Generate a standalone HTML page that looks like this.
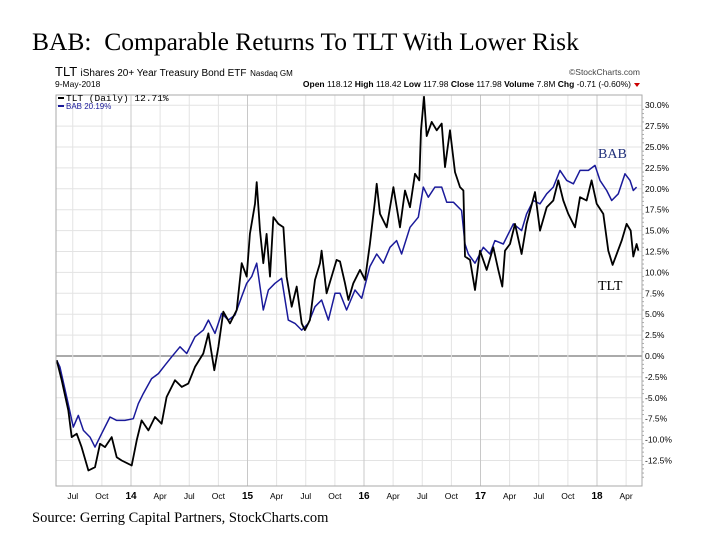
<!DOCTYPE html>
<html><head><meta charset="utf-8"><style>
body{margin:0;background:#fff;width:720px;height:540px;overflow:hidden}
svg{display:block}
</style></head><body>
<svg id="chart" width="720" height="540" xmlns="http://www.w3.org/2000/svg">
<text x="32" y="50" font-family="Liberation Serif, serif" font-size="25.5" fill="#000">BAB:&#160; Comparable Returns To TLT With Lower Risk</text>
<text x="32" y="522" font-family="Liberation Serif, serif" font-size="14.5" fill="#000">Source: Gerring Capital Partners, StockCharts.com</text>
<g font-family="Liberation Sans, sans-serif">
<text x="55" y="76" font-size="13" fill="#000">TLT <tspan font-size="10">iShares 20+ Year Treasury Bond ETF</tspan> <tspan font-size="8">Nasdaq GM</tspan></text>
<text x="640" y="75" font-size="8.5" fill="#444" text-anchor="end">©StockCharts.com</text>
<text x="55" y="87" font-size="8.5" fill="#000">9-May-2018</text>
<text x="631" y="87" font-size="8.5" fill="#000" text-anchor="end"><tspan font-weight="bold">Open</tspan> 118.12 <tspan font-weight="bold">High</tspan> 118.42 <tspan font-weight="bold">Low</tspan> 117.98 <tspan font-weight="bold">Close</tspan> 117.98 <tspan font-weight="bold">Volume</tspan> 7.8M <tspan font-weight="bold">Chg</tspan> -0.71 (-0.60%)</text>
<path d="M634,83 L640,83 L637,87 Z" fill="#c00"/>
</g>
<g id="grid"></g>
<g id="series"></g>
<g id="axes"></g>
<rect x="56" y="95" width="586" height="391" fill="none" stroke="#aaa" stroke-width="1"/>
<g font-family="Liberation Mono, monospace">
<line x1="58" y1="98" x2="64" y2="98" stroke="#000" stroke-width="2"/>
<text x="66" y="101" font-size="9.5" fill="#000">TLT (Daily) 12.71%</text>
<line x1="58" y1="106" x2="64" y2="106" stroke="#1a1a9a" stroke-width="2"/>
<text x="66" y="109" font-size="8" font-family="Liberation Sans, sans-serif" fill="#1a1a9a">BAB 20.19%</text>
</g>
<text x="598" y="158" font-family="Liberation Serif, serif" font-size="14" fill="#1f2f7a">BAB</text>
<text x="598" y="290" font-family="Liberation Serif, serif" font-size="14" fill="#000">TLT</text>
</svg>
<script>
const tltDates=[2013.362,2013.405,2013.462,2013.491,2013.534,2013.576,2013.634,2013.691,2013.734,2013.777,2013.834,2013.877,2013.920,2014.006,2014.049,2014.091,2014.149,2014.206,2014.263,2014.306,2014.378,2014.435,2014.492,2014.549,2014.621,2014.664,2014.715,2014.750,2014.792,2014.850,2014.907,2014.950,2014.993,2015.021,2015.064,2015.079,2015.107,2015.136,2015.164,2015.193,2015.222,2015.265,2015.308,2015.336,2015.379,2015.422,2015.465,2015.493,2015.536,2015.579,2015.622,2015.636,2015.679,2015.722,2015.765,2015.794,2015.837,2015.866,2015.908,2015.966,2016.009,2016.051,2016.094,2016.109,2016.137,2016.195,2016.252,2016.309,2016.352,2016.395,2016.438,2016.475,2016.489,2016.515,2016.538,2016.581,2016.624,2016.667,2016.695,2016.738,2016.781,2016.824,2016.853,2016.867,2016.910,2016.953,2016.996,2017.053,2017.110,2017.153,2017.187,2017.210,2017.253,2017.296,2017.353,2017.396,2017.468,2017.511,2017.568,2017.625,2017.668,2017.711,2017.754,2017.811,2017.854,2017.911,2017.954,2017.997,2018.054,2018.097,2018.134,2018.169,2018.212,2018.254,2018.289,2018.312,2018.340,2018.355];
const tltValues=[-0.5,-2.9,-6.5,-9.7,-9.3,-10.9,-13.7,-13.3,-10.5,-10.9,-9.7,-12.1,-12.5,-13.1,-10.1,-7.7,-8.9,-7.3,-8.1,-4.9,-2.9,-3.7,-3.3,-1.3,0.3,2.7,-1.7,1.1,5.3,3.9,5.5,11.1,9.5,14.6,18.2,20.8,15.0,11.1,14.6,9.5,16.6,15.8,15.4,9.5,5.9,8.3,3.9,3.1,4.3,9.1,11.1,12.6,7.5,9.5,11.5,11.3,8.7,6.7,8.7,10.3,9.1,13.4,18.6,20.6,17.0,15.4,20.2,15.4,19.8,17.8,21.8,21.0,27.0,31.0,26.3,28.0,27.0,27.8,22.6,27.0,22.0,20.2,19.8,11.9,11.5,7.9,12.6,10.3,13.0,10.3,8.3,12.6,13.4,15.8,12.2,15.8,19.6,15.0,17.8,18.6,21.0,18.6,17.0,15.4,19.0,18.6,21.0,18.2,17.0,12.6,10.9,12.2,13.8,15.8,15.0,11.9,13.4,12.6];
const babDates=[2013.362,2013.390,2013.448,2013.505,2013.548,2013.591,2013.648,2013.691,2013.748,2013.820,2013.877,2013.948,2014.020,2014.063,2014.106,2014.177,2014.235,2014.292,2014.349,2014.421,2014.478,2014.549,2014.621,2014.664,2014.721,2014.778,2014.835,2014.893,2014.950,2014.993,2015.036,2015.079,2015.136,2015.179,2015.236,2015.293,2015.350,2015.408,2015.465,2015.522,2015.579,2015.636,2015.694,2015.751,2015.794,2015.851,2015.923,2015.980,2016.051,2016.109,2016.166,2016.223,2016.280,2016.323,2016.395,2016.466,2016.509,2016.552,2016.609,2016.667,2016.710,2016.767,2016.838,2016.867,2016.895,2016.953,2017.024,2017.081,2017.124,2017.196,2017.239,2017.282,2017.353,2017.396,2017.453,2017.511,2017.568,2017.625,2017.682,2017.740,2017.797,2017.854,2017.926,2017.983,2018.026,2018.083,2018.126,2018.183,2018.240,2018.283,2018.312,2018.340];
const babValues=[-0.5,-1.3,-4.9,-8.5,-7.1,-8.9,-9.7,-10.9,-9.3,-7.3,-7.7,-7.7,-7.5,-5.7,-4.5,-2.7,-2.1,-1.1,-0.1,1.1,0.3,2.3,3.1,4.3,2.7,5.1,4.3,4.9,7.1,8.7,9.5,11.1,5.5,7.9,8.7,9.3,4.3,3.9,3.1,3.9,5.9,6.7,4.3,7.5,7.5,5.5,7.9,6.9,10.7,12.2,11.1,13.0,13.8,12.2,15.4,16.6,20.2,19.0,20.2,20.2,18.4,18.4,17.4,13.4,12.2,11.1,13.0,12.2,13.8,13.4,14.6,15.8,15.0,17.0,18.6,18.2,19.4,20.2,22.2,21.0,20.6,22.2,22.2,22.8,21.0,19.8,18.6,19.4,21.8,21.0,19.8,20.2];
const yTicks=[30,27.5,25,22.5,20,17.5,15,12.5,10,7.5,5,2.5,0,-2.5,-5,-7.5,-10,-12.5];
const xTickDates=[2013.5,2013.75,2014,2014.25,2014.5,2014.75,2015,2015.25,2015.5,2015.75,2016,2016.25,2016.5,2016.75,2017,2017.25,2017.5,2017.75,2018,2018.25];
const xTickLabels=["Jul","Oct","14","Apr","Jul","Oct","15","Apr","Jul","Oct","16","Apr","Jul","Oct","17","Apr","Jul","Oct","18","Apr"];

const NS="http://www.w3.org/2000/svg";
const L=56,R=642,T=95,B=486;
function xs(d){return 131+(d-2014)*116.5;}
function ys(v){return 356-v*8.36;}
function mk(tag,attrs,parent){const e=document.createElementNS(NS,tag);for(const k in attrs)e.setAttribute(k,attrs[k]);parent.appendChild(e);return e;}
const grid=document.getElementById('grid'),axes=document.getElementById('axes'),series=document.getElementById('series');
for(let i=0;i<yTicks.length;i++){
  const v=yTicks[i],y=ys(v);
  const g=mk('line',{x1:L,x2:R,y1:y,y2:y,stroke:v===0?'#777':'#e3e3e3','stroke-width':v===0?1.3:1},grid);
  
  
  const t=mk('text',{x:645,y:y+3,'font-size':8.5,'font-family':'Liberation Sans, sans-serif',fill:'#000'},axes);
  t.textContent=v.toFixed(1)+'%';
  
  
  for(let m=1;m<5;m++){const my=y+m*8.36*0.5;if(my<B){const tk=mk('line',{x1:R,x2:R+2,y1:my,y2:my,stroke:'#aaa'},axes);
  
  }}
}
for(let i=0;i<xTickDates.length;i++){
  const x=xs(xTickDates[i]);const yr=/^\d+$/.test(xTickLabels[i]);
  const g=mk('line',{x1:x,x2:x,y1:T,y2:B,stroke:yr?'#c8c8c8':'#e3e3e3','stroke-width':1},grid);
  
  
  const t=mk('text',{x:x,y:499,'font-size':yr?10:8.5,'font-weight':yr?'bold':'normal','text-anchor':'middle','font-family':'Liberation Sans, sans-serif',fill:'#000'},axes);
  t.textContent=xTickLabels[i];
  
  
}
function line(dates,vals,color,w,name){
  let d='';for(let i=0;i<dates.length;i++)d+=(i?'L':'M')+xs(dates[i]).toFixed(1)+','+ys(vals[i]).toFixed(1);
  const p=mk('path',{d:d,fill:'none',stroke:color,'stroke-width':w,'stroke-linejoin':'round'},series);
  
  
}
line(babDates,babValues,'#1a1a9a',1.5,'bab-line');
line(tltDates,tltValues,'#000',1.8,'tlt-line');
</script>
</body></html>
